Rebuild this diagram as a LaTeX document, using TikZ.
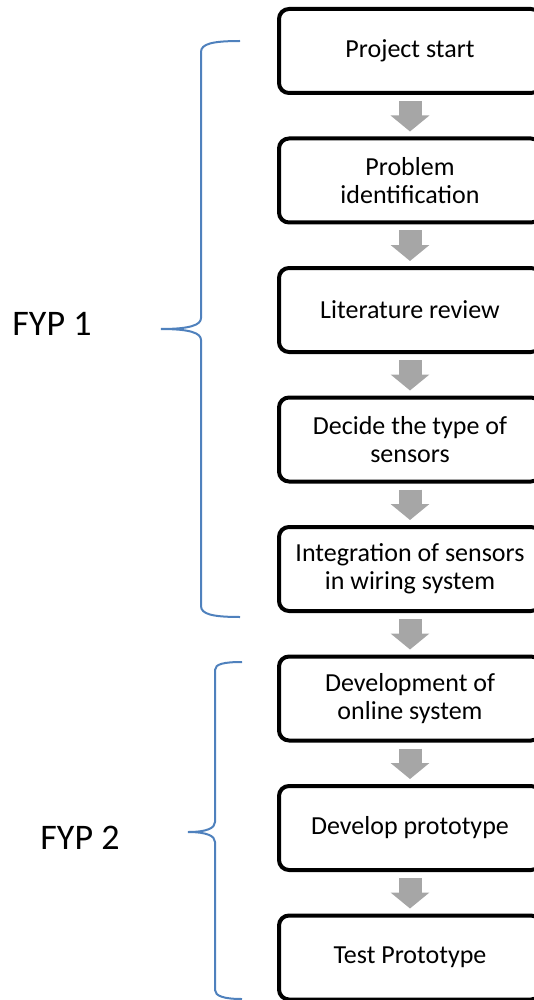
\documentclass[tikz,border=0pt]{standalone}
\usepackage{fontspec}
\setmainfont{Carlito}
\usetikzlibrary{positioning,arrows.meta}
\def\boxW{131pt}
\def\boxH{42pt}
\def\borderW{2pt}
\definecolor{braceblue}{HTML}{4F81BD}
\definecolor{arrowgray}{HTML}{A6A6A6}
\tikzset
{
  Stage/.style=
  {
    draw,
    line width=\borderW,
    rounded corners=5pt,
    minimum width=\boxW,
    minimum height=\boxH,
    align=center,
    font=\fontsize{13}{14}\selectfont,
  },
  Flow/.style=
  {
    draw=arrowgray,
    line width=11.5pt,
    -{Triangle[length=8pt,width=19pt]},
    shorten >=2.5pt,
    shorten <=3pt,
  },
  Brace/.style={draw=braceblue, line width=1pt},
  Phase/.style={font=\fontsize{18}{20}\selectfont},
}
\begin{document}
\begin{tikzpicture}
[
  x=0.5pt, y=-0.5pt,
  node distance=20.75pt, % gap between stages
]
\useasboundingbox (0,0) rectangle (534,1000);
\clip (0,0) rectangle (534,1000);
\node (start) [Stage] at (410,51) {Project start};
\node (problem) [Stage, below=of start] {Problem\\identification};
\node (review) [Stage, below=of problem] {Literature review};
\node (sensors) [Stage, below=of review] {Decide the type of\\sensors};
\node (wiring) [Stage, below=of sensors] {Integration of sensors\\in wiring system};
\node (online) [Stage, below=of wiring] {Development of\\online system};
\node (proto) [Stage, below=of online] {Develop prototype};
\node (test) [Stage, below=of proto] {Test Prototype};

\foreach \a/\b in {start/problem,problem/review,review/sensors,sensors/wiring,wiring/online,online/proto,proto/test}
  \draw [Flow] (\a) -- (\b);

% phase braces
\draw [Brace] (240,41) .. controls (212,41) and (201,44) .. (201,52) -- (201,318)
  .. controls (201,325) and (190,329) .. (161,329)
  .. controls (190,329) and (201,333) .. (201,340) -- (201,606)
  .. controls (201,614) and (212,617) .. (240,617);
\draw [Brace] (242,662) .. controls (224,662) and (215,664) .. (215,670) -- (215,822)
  .. controls (215,828) and (207,832) .. (188,832)
  .. controls (207,832) and (215,836) .. (215,842) -- (215,990)
  .. controls (215,996) and (224,999) .. (242,999);
\node (fyp1) [Phase] at (52,324) {FYP 1};
\node (fyp2) [Phase] at (80,838) {FYP 2};
\end{tikzpicture}
\end{document}
